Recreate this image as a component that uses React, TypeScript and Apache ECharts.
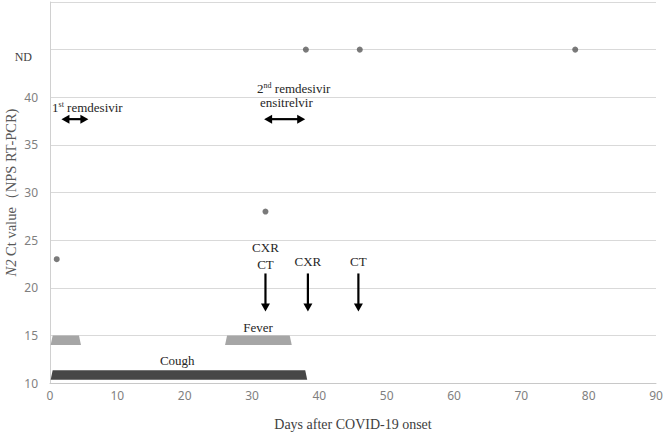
import React, { useEffect, useRef } from "react";
import * as echarts from "echarts";

// Ct values (45 = ND)
const ctDays = [1, 32, 38, 46, 78];
const ctValues = [23, 28, 45, 45, 45];

const yTicks = [10, 15, 20, 25, 30, 35, 40, 45, 50];
const ndValue = 45;

// symptoms: [startDay, endDay]
const feverPeriods = [
  [0.1, 4.6],
  [26, 35.9],
];
const feverLevel = [14, 15];
const coughPeriods = [[0.1, 38.2]];
const coughLevel = [10.35, 11.35];

// treatments (double arrows): [startDay, endDay, level]
const treatmentArrows = [
  [1.7, 5.7, 37.7],
  [31.8, 37.9, 37.7],
];

// imaging (down arrows): day, from, to
const imagingDays = [32, 38.3, 45.8];
const imagingFrom = 21.5;
const imagingTo = 17.5;

// annotations: [day, value, text, align]
const annotations: [number, number, string, string][] = [
  [30.9, 15.85, "Fever", "center"],
  [18.9, 12.4, "Cough", "center"],
  [0.3, 38.9, "1{sup|st} remdesivir", "left"],
  [30.75, 40.9, "2{sup|nd} remdesivir", "left"],
  [31.2, 39.45, "ensitrelvir", "left"],
  [32, 24.25, "CXR", "center"],
  [32, 22.45, "CT", "center"],
  [38.3, 22.8, "CXR", "center"],
  [45.8, 22.8, "CT", "center"],
];

const SERIF = "'Liberation Serif', 'DejaVu Serif', serif";
const SANS = "'Noto Sans', 'DejaVu Sans', sans-serif";

function arrowShape(a: number[], b: number[], both: boolean, color: string) {
  const dx = b[0] - a[0];
  const dy = b[1] - a[1];
  const len = Math.sqrt(dx * dx + dy * dy) || 1;
  const ux = dx / len;
  const uy = dy / len;
  const px = -uy;
  const py = ux;
  const hl = 8;
  const hw = 4.5;
  const children: any[] = [];
  const s = both ? [a[0] + ux * hl * 0.8, a[1] + uy * hl * 0.8] : a;
  const e = [b[0] - ux * hl * 0.8, b[1] - uy * hl * 0.8];
  children.push({
    type: "line",
    shape: { x1: s[0], y1: s[1], x2: e[0], y2: e[1] },
    style: { stroke: color, lineWidth: 2.2 },
  });
  children.push({
    type: "polygon",
    shape: {
      points: [
        [b[0], b[1]],
        [b[0] - ux * hl + px * hw, b[1] - uy * hl + py * hw],
        [b[0] - ux * hl - px * hw, b[1] - uy * hl - py * hw],
      ],
    },
    style: { fill: color },
  });
  if (both) {
    children.push({
      type: "polygon",
      shape: {
        points: [
          [a[0], a[1]],
          [a[0] + ux * hl + px * hw, a[1] + uy * hl + py * hw],
          [a[0] + ux * hl - px * hw, a[1] + uy * hl - py * hw],
        ],
      },
      style: { fill: color },
    });
  }
  return { type: "group", children };
}

export default function App() {
  const ref = useRef<HTMLDivElement>(null);
  useEffect(() => {
    if (!ref.current) return;
    const chart = echarts.init(ref.current, undefined, { renderer: "svg" });

    const barSeries = (periods: number[][], level: number[], color: string, name: string) => ({
      type: "custom",
      name,
      data: periods.map((p) => [p[0], p[1]]),
      renderItem: (params: any, api: any) => {
        const x0 = api.value(0);
        const x1 = api.value(1);
        const bl = api.coord([x0, level[0]]);
        const br = api.coord([x1, level[0]]);
        const tl = api.coord([x0, level[1]]);
        const tr = api.coord([x1, level[1]]);
        const inset = 2;
        return {
          type: "polygon",
          shape: {
            points: [
              [bl[0], bl[1]],
              [br[0], br[1]],
              [tr[0] - inset, tr[1]],
              [tl[0] + inset, tl[1]],
            ],
          },
          style: { fill: color },
        };
      },
      silent: true,
      z: 3,
    });

    chart.setOption({
      animation: false,
      grid: { left: 50, right: 9, top: 2, bottom: 54, containLabel: false, outerBoundsMode: "none" },
      xAxis: {
        type: "value",
        min: 0,
        max: 90,
        interval: 10,
        name: "Days after COVID-19 onset",
        nameLocation: "middle",
        nameGap: 34,
        nameMoveOverlap: false,
        nameTextStyle: { fontFamily: SERIF, fontSize: 14, color: "#404040" },
        axisLine: { show: true, lineStyle: { color: "#c8c8c8", width: 1 } },
        axisTick: { show: false },
        axisLabel: { color: "#7f7f7f", fontFamily: SANS, fontSize: 12, margin: 6 },
        splitLine: { show: false },
      },
      yAxis: {
        type: "value",
        min: 10,
        max: 50,
        interval: 5,
        name: "{i|N2} Ct value（NPS RT-PCR)",
        nameLocation: "middle",
        nameGap: 32,
        nameMoveOverlap: false,
        nameTextStyle: {
          fontFamily: SERIF,
          fontSize: 14.5,
          color: "#595959",
          rich: {
            i: { fontFamily: SERIF, fontStyle: "italic", fontSize: 14.5, color: "#595959" },
          },
        },
        axisLine: { show: true, lineStyle: { color: "#d0d0d0", width: 1 } },
        axisTick: { show: false },
        axisLabel: {
          color: "#7f7f7f",
          fontFamily: SANS,
          fontSize: 12,
          margin: 12,
          formatter: (v: number) => {
            if (!yTicks.includes(v)) return "";
            if (v === ndValue) return "{nd|ND}";
            if (v === 50) return "";
            return String(v);
          },
          rich: {
            nd: {
              fontFamily: SERIF,
              fontSize: 12,
              color: "#404040",
              padding: [14, 6, 0, 0],
            },
          },
        },
        splitLine: { show: true, lineStyle: { color: "#d9d9d9", width: 1 } },
      },
      series: [
        barSeries(feverPeriods, feverLevel, "#a6a6a6", "Fever"),
        barSeries(coughPeriods, coughLevel, "#474747", "Cough"),
        {
          type: "scatter",
          name: "Ct",
          data: ctDays.map((d, i) => [d, ctValues[i]]),
          symbol: "circle",
          symbolSize: 6,
          itemStyle: { color: "#595959" },
          z: 4,
        },
        {
          type: "custom",
          name: "treatments",
          data: treatmentArrows.map((t) => [t[0], t[1], t[2]]),
          renderItem: (params: any, api: any) => {
            const a = api.coord([api.value(0), api.value(2)]);
            const b = api.coord([api.value(1), api.value(2)]);
            return arrowShape(a, b, true, "#000");
          },
          silent: true,
          z: 5,
        },
        {
          type: "custom",
          name: "imaging",
          data: imagingDays.map((d) => [d, imagingFrom, imagingTo]),
          renderItem: (params: any, api: any) => {
            const a = api.coord([api.value(0), api.value(1)]);
            const b = api.coord([api.value(0), api.value(2)]);
            return arrowShape(a, b, false, "#000");
          },
          silent: true,
          z: 5,
        },
        {
          type: "custom",
          name: "annotations",
          data: annotations.map((a) => [a[0], a[1]]),
          renderItem: (params: any, api: any) => {
            const ann = annotations[params.dataIndex];
            const p = api.coord([api.value(0), api.value(1)]);
            return {
              type: "text",
              x: p[0],
              y: p[1],
              style: {
                text: ann[2],
                fill: "#262626",
                fontFamily: SERIF,
                fontSize: 13,
                align: ann[3],
                verticalAlign: "middle",
                rich: {
                  sup: { fontFamily: SERIF, fontSize: 8, fill: "#262626", verticalAlign: "top", padding: [0, 0, 6, 0] },
                },
              },
            };
          },
          silent: true,
          z: 6,
        },
      ],
    });
    return () => chart.dispose();
  }, []);
  return (
    <div
      ref={ref}
      style={{ position: "fixed", left: 0, top: 0, width: 665, height: 437, background: "#fff" }}
    />
  );
}
